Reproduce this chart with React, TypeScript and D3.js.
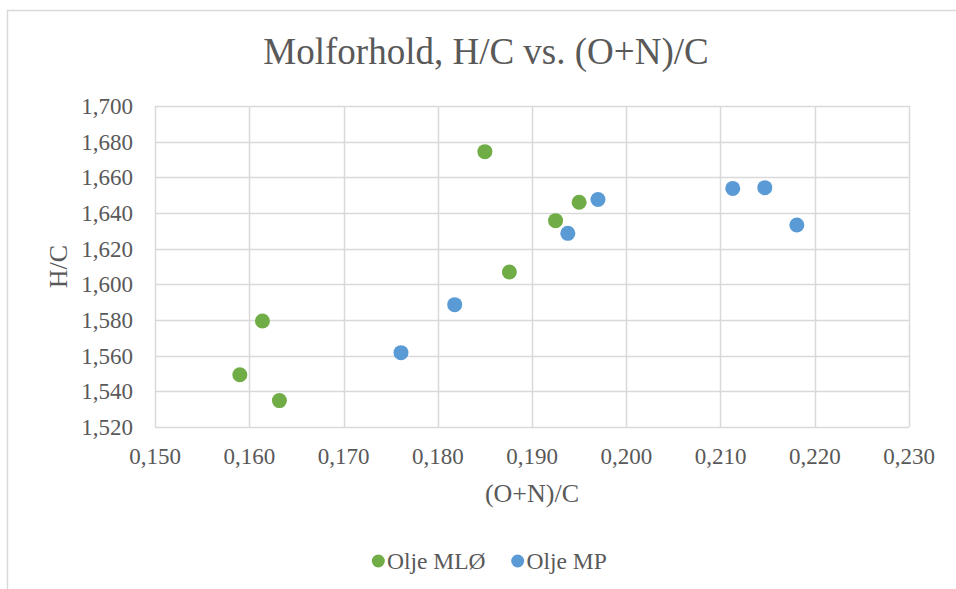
import React from "react";
import * as d3 from "d3";

const title = "Molforhold, H/C vs. (O+N)/C";
const xTitle = "(O+N)/C";
const yTitle = "H/C";

const seriesNames = ["Olje MLØ", "Olje MP"];
const seriesColors = ["#70AD47", "#5B9BD5"];

const mloX = [0.1590, 0.1614, 0.1632, 0.1850, 0.1876, 0.1925, 0.1950];
const mloY = [1.5493, 1.5794, 1.5348, 1.6744, 1.6069, 1.6357, 1.6460];

const mpX = [0.1761, 0.1818, 0.1938, 0.1970, 0.2113, 0.2147, 0.2181];
const mpY = [1.5617, 1.5886, 1.6286, 1.6476, 1.6538, 1.6542, 1.6333];

const xTicks = [0.15, 0.16, 0.17, 0.18, 0.19, 0.2, 0.21, 0.22, 0.23];
const yTicks = [1.52, 1.54, 1.56, 1.58, 1.6, 1.62, 1.64, 1.66, 1.68, 1.7];

const W = 956;
const H = 589;
const FONT = "'Liberation Serif', 'Times New Roman', serif";
const TEXT = "#595959";
const GRID = "#D9D9D9";

const fmt = (v: number) => v.toFixed(3).replace(".", ",");

export default function App() {
  const x = d3.scaleLinear().domain([0.15, 0.23]).range([155, 909]);
  const y = d3.scaleLinear().domain([1.52, 1.7]).range([427, 106]);

  const series = [
    { name: seriesNames[0], color: seriesColors[0], xs: mloX, ys: mloY },
    { name: seriesNames[1], color: seriesColors[1], xs: mpX, ys: mpY },
  ];

  return (
    <svg
      width={W}
      height={H}
      style={{ position: "absolute", left: 0, top: 0, background: "#fff" }}
      fontFamily={FONT}
    >
      <rect x={0} y={0} width={W} height={H} fill="#fff" />
      {/* outer chart border (extends past the picture on right/bottom) */}
      <rect x={7.5} y={10.5} width={W + 20} height={H + 20} fill="none" stroke={GRID} strokeWidth={1.5} />

      <text x={486} y={64} textAnchor="middle" fontSize={37} fill={TEXT}>
        {title}
      </text>

      {/* gridlines */}
      {yTicks.map((t) => (
        <line key={"gy" + t} x1={x(0.15)} x2={x(0.23)} y1={Math.round(y(t)) + 0.5} y2={Math.round(y(t)) + 0.5} stroke={GRID} strokeWidth={1.5} />
      ))}
      {xTicks.map((t) => (
        <line key={"gx" + t} x1={Math.round(x(t)) + 0.5} x2={Math.round(x(t)) + 0.5} y1={y(1.7)} y2={y(1.52)} stroke={GRID} strokeWidth={1.5} />
      ))}

      {/* tick labels */}
      {yTicks.map((t) => (
        <text key={"ty" + t} x={133} y={y(t) + 8} textAnchor="end" fontSize={23} fill={TEXT}>
          {fmt(t)}
        </text>
      ))}
      {xTicks.map((t) => (
        <text key={"tx" + t} x={x(t)} y={464} textAnchor="middle" fontSize={23} fill={TEXT}>
          {fmt(t)}
        </text>
      ))}

      {/* axis titles */}
      <text x={532} y={502} textAnchor="middle" fontSize={26} fill={TEXT}>
        {xTitle}
      </text>
      <text
        transform={`translate(67, ${(y(1.7) + y(1.52)) / 2}) rotate(-90)`}
        textAnchor="middle"
        fontSize={26}
        fill={TEXT}
      >
        {yTitle}
      </text>

      {/* points */}
      {series.map((s) =>
        s.xs.map((xv, i) => (
          <circle key={s.name + i} cx={x(xv)} cy={y(s.ys[i])} r={7.5} fill={s.color} />
        ))
      )}

      {/* legend */}
      <g>
        <circle cx={378.3} cy={561} r={6.5} fill={seriesColors[0]} />
        <text x={387} y={569} fontSize={23.5} fill={TEXT}>
          {seriesNames[0]}
        </text>
        <circle cx={517.7} cy={561} r={6.5} fill={seriesColors[1]} />
        <text x={526.5} y={569} fontSize={23.5} fill={TEXT}>
          {seriesNames[1]}
        </text>
      </g>
    </svg>
  );
}
